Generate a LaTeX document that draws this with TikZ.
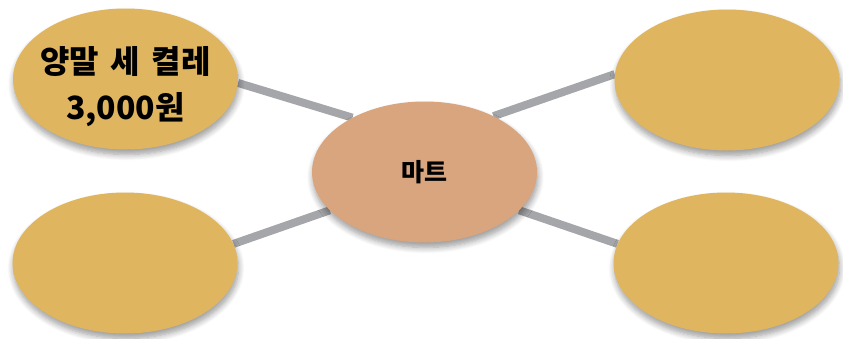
\documentclass[tikz,border=0pt]{standalone}
\usepackage{fontspec}
\newfontfamily\krfont[WordSpace=1.6]{Noto Sans CJK KR}
\usepackage{tikz}
\usetikzlibrary{shapes.geometric,backgrounds,shadows.blur}
\definecolor{mustard}{HTML}{E0B560}
\definecolor{apricot}{HTML}{D9A57E}
\definecolor{linkgray}{HTML}{A5A6AA}

\begin{document}
\begin{tikzpicture}[
		x=1pt,y=-1pt,
		bub/.style={ellipse,fill=mustard,minimum width=225pt,minimum height=141pt,inner sep=-14pt,align=center,font=\krfont\bfseries\fontsize{32}{46}\selectfont,blur shadow={shadow xshift=1pt,shadow yshift=-5pt,shadow blur steps=8,shadow blur radius=6pt}},
		hub/.style={bub,fill=apricot,font=\krfont\bfseries\fontsize{25}{30}\selectfont},
		link/.style={draw=linkgray,line width=8pt}
		]
		\useasboundingbox (0,0) rectangle (843,338);
		\node[hub] (mart) at (424.5,172) {마트};
		\node[bub,text height=88pt] (socks) at (125.5,79) {양말 세 켤레\\3,000원};
		\node[bub] (tr) at (727,80) {};
		\node[bub] (bl) at (125,263) {};
		\node[bub] (br) at (726,263) {};
		\begin{scope}[on background layer]
			\draw[link] (socks.-2) -- (mart.143);
			\draw[link] (tr.177) -- (mart.39);
			\draw[link] (bl.10) -- (mart.202);
			\draw[link] (br.170) -- (mart.338);
		\end{scope}
	\end{tikzpicture}
\end{document}
